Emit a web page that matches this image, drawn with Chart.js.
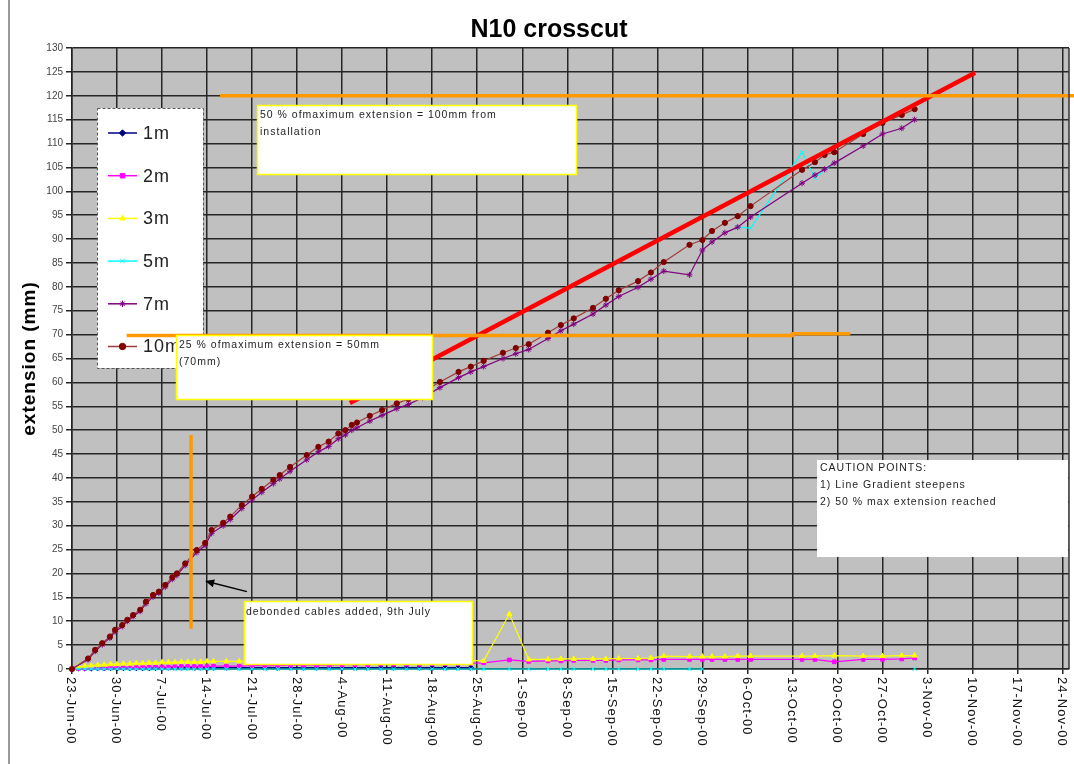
<!DOCTYPE html>
<html>
<head>
<meta charset="utf-8">
<script src="https://cdn.jsdelivr.net/npm/chart.js@4.4.1/dist/chart.umd.min.js"></script>
<style>
  html, body { margin: 0; padding: 0; background: #ffffff; }
  canvas { display: block; }
</style>
</head>
<body>
<canvas id="c" width="1074" height="764"></canvas>
<script>
// Day offsets are counted from the installation date, 23-Jun-00.
const tickLabels = ['23-Jun-00', '30-Jun-00', '7-Jul-00', '14-Jul-00', '21-Jul-00', '28-Jul-00',
  '4-Aug-00', '11-Aug-00', '18-Aug-00', '25-Aug-00', '1-Sep-00', '8-Sep-00', '15-Sep-00',
  '22-Sep-00', '29-Sep-00', '6-Oct-00', '13-Oct-00', '20-Oct-00', '27-Oct-00', '3-Nov-00',
  '10-Nov-00', '17-Nov-00', '24-Nov-00'];

// Reading days of the deep anchors (7m and 10m)
const deepDays = [
  0, 2.5, 3.6, 4.7, 5.9, 6.7, 7.8, 8.6, 9.5, 10.6,
  11.5, 12.6, 13.5, 14.5, 15.6, 16.3, 17.6, 19.4, 20.7, 21.7,
  23.5, 24.6, 26.4, 28.0, 29.5, 31.3, 32.3, 33.9, 36.5, 38.3,
  39.9, 41.4, 42.5, 43.5, 44.3, 46.3, 48.2, 50.5, 52.3, 54.5,
  57.2, 60.1, 62, 64, 67, 69, 71, 74, 76, 78,
  81, 83, 85, 88, 90, 92, 96, 98, 99.5, 101.5,
  103.5, 105.5, 113.5, 115.5, 117, 118.5, 123, 126, 129, 131];

const ext10m = [
  0, 2.2, 4.0, 5.4, 6.8, 8.2, 9.2, 10.3, 11.3, 12.4,
  14.1, 15.5, 16.2, 17.6, 19.2, 20.0, 22.1, 24.9, 26.4, 29.1,
  30.6, 31.9, 34.3, 36.1, 37.7, 39.6, 40.6, 42.3, 44.8, 46.5,
  47.6, 49.3, 50.0, 51.1, 51.6, 53.0, 54.2, 55.6, 56.5, 58.0,
  60.1, 62.2, 63.3, 64.5, 66.2, 67.2, 68.0, 70.4, 72.0, 73.4,
  75.6, 77.5, 79.3, 81.2, 83.0, 85.2, 88.8, 89.8, 91.7, 93.4,
  94.8, 96.9, 104.5, 106.1, 107.6, 108.2, 112.0, 114.3, 116.0, 117.2];

const ext7m = [
  0, 2.0, 3.7, 5.1, 6.5, 7.8, 8.9, 10.0, 11.0, 12.1,
  13.7, 15.1, 15.9, 17.2, 18.8, 19.6, 21.7, 24.4, 25.9, 28.4,
  30.0, 31.3, 33.6, 35.4, 37.0, 38.8, 39.8, 41.4, 43.8, 45.5,
  46.6, 48.2, 49.0, 50.0, 50.5, 51.9, 53.1, 54.5, 55.4, 56.8,
  58.9, 61.0, 62.2, 63.3, 65.0, 66.0, 66.9, 69.2, 70.8, 72.2,
  74.3, 76.2, 78.0, 79.9, 81.6, 83.3, 82.5, 87.7, 89.4, 91.3,
  92.5, 94.6, 101.7, 103.4, 104.6, 105.9, 109.5, 112.0, 113.2, 115.0];

// Reading days of the shallow anchors (1m, 2m, 3m, 5m)
const shallowDays = [
  0, 1, 2, 3, 4, 5, 6, 7, 8, 9,
  10, 11, 12, 13, 14, 15, 16, 17, 18, 19,
  20, 21, 22, 24, 26, 28, 30, 32, 34, 36,
  38, 40, 42, 44, 46, 48, 50, 52, 54, 56,
  58, 60, 62, 64, 68, 71, 74, 76, 78, 81,
  83, 85, 88, 90, 92, 96, 98, 99.5, 101.5, 103.5,
  105.5, 113.5, 115.5, 118.5, 123, 126, 129, 131];

const ext1m = [
  0, 0.1, 0.1, 0.1, 0.2, 0.2, 0.2, 0.2, 0.2, 0.2,
  0.2, 0.2, 0.2, 0.2, 0.3, 0.3, 0.3, 0.3, 0.3, 0.3,
  0.3, 0.3, 0.3, 0.3, 0.3, 0.3, 0.3, 0.3, 0.3, 0.3,
  0.3, 0.3, 0.3, 0.3, 0.3, 0.3, 0.3, 0.3, 0.3, 0.3,
  0.3, 0.3, 0.3, null, null, null, null, null, null, null,
  null, null, null, null, null, null, null, null, null, null,
  null, null, null, null, null, null, null, null];

const ext2m = [
  0, 0.1, 0.1, 0.2, 0.2, 0.2, 0.3, 0.3, 0.3, 0.3,
  0.3, 0.4, 0.4, 0.4, 0.4, 0.4, 0.5, 0.5, 0.5, 0.5,
  0.5, 0.5, 0.6, 0.6, 0.6, 0.7, 0.7, 0.7, 0.8, 0.8,
  0.8, 0.8, 0.9, 0.9, 0.9, 1.0, 1.0, 1.0, 1.0, 1.1,
  1.1, 1.1, 1.2, 1.3, 1.9, 1.6, 1.7, 1.7, 1.8, 1.8,
  1.8, 1.9, 1.9, 1.9, 2.0, 2.0, 2.0, 2.0, 2.0, 2.0,
  2.0, 2.0, 2.0, 1.5, 2.0, 2.0, 2.1, 2.3];

const ext3m = [
  0, 0.5, 0.6, 0.7, 0.8, 0.9, 1.0, 1.0, 1.1, 1.1,
  1.2, 1.2, 1.3, 1.3, 1.4, 1.4, 1.4, 1.5, 1.5, 1.5,
  1.5, 1.6, 1.6, 1.6, 1.6, 1.7, 1.7, 1.7, 1.7, 1.8,
  1.8, 1.8, 1.8, 1.8, 1.8, 1.8, 1.8, 1.8, 1.8, 1.8,
  1.8, 1.8, 1.8, 1.7, 11.5, 2.0, 2.0, 2.1, 2.1, 2.1,
  2.1, 2.2, 2.2, 2.3, 2.7, 2.6, 2.6, 2.6, 2.6, 2.7,
  2.7, 2.7, 2.7, 2.8, 2.7, 2.7, 2.8, 2.8];

const ext5m = [
  0, 0, 0, 0, 0, 0, 0, 0, 0, 0,
  0, 0, 0, 0, 0, 0, 0, 0, 0, 0,
  0, 0, 0, 0, 0, 0, 0, 0, 0, 0,
  0, 0, 0, 0, 0, 0, 0, 0, 0, 0,
  0, 0, 0, 0, 0, 0, 0, 0, 0, 0,
  0, 0, 0, 0, 0, 0, 0, null, null, 92.5,
  92.3, 108.2, 102.8, 105.9, null, null, null, 0];

// Reference lines: [day, extension (mm)]
const limit50Line = [[23, 120], [156, 120]];
const limit25Line = [[8.5, 69.8], [112, 69.8], [112, 70.2], [121, 70.2]];
const debondLine = [[18.5, 49], [18.5, 8.4]];
const gradientLine = [[43.2, 55.7], [140.4, 124.8]];

const FONT = '"Liberation Sans", Arial, Helvetica, sans-serif';
const toPoints = (days, vals) => days.map((d, i) => ({ x: d, y: vals[i] }));
const toXY = (pairs) => pairs.map(p => ({ x: p[0], y: p[1] }));

function series(label, days, vals, color, markColor, style, r) {
  return {
    label, data: toPoints(days, vals),
    borderColor: color, borderWidth: 1.2,
    pointStyle: style, pointRadius: r,
    pointBackgroundColor: markColor, pointBorderColor: markColor, pointBorderWidth: 1,
    spanGaps: false, tension: 0, clip: 4
  };
}
function refLine(data, color, width) {
  return { data: toXY(data), borderColor: color, borderWidth: width,
    pointRadius: 0, tension: 0, clip: { left: 0, top: 0, right: 8, bottom: 0 } };
}

// Index 0 is painted last, so the reference lines sit on top.
const datasets = [
  refLine(limit50Line, '#ff9900', 3.5),
  refLine(limit25Line, '#ff9900', 3.5),
  refLine(debondLine, '#ff9900', 3.5),
  refLine(gradientLine, '#ff0000', 4.5),
  series('10m', deepDays, ext10m, '#a03c3c', '#800000', 'circle', 2.6),
  series('7m', deepDays, ext7m, '#800080', '#800080', 'star', 3),
  series('5m', shallowDays, ext5m, '#00ffff', '#00ffff', 'crossRot', 2.6),
  series('3m', shallowDays, ext3m, '#ffff00', '#ffff00', 'triangle', 3),
  series('2m', shallowDays, ext2m, '#ff00ff', '#ff00ff', 'rect', 2.6),
  series('1m', shallowDays, ext1m, '#000080', '#000080', 'rectRot', 2.6)
];
const legendOrder = ['1m', '2m', '3m', '5m', '7m', '10m'];

const notes = [
  { box: [257, 105, 577, 175], border: '#ffff00', at: [260, 115],
    lines: ['50 % ofmaximum extension = 100mm from', 'installation'] },
  { box: [176, 335, 433, 400], border: '#ffff00', at: [179, 345],
    lines: ['25 % ofmaximum extension = 50mm', '(70mm)'] },
  { box: [817, 460, 1068, 557], border: null, at: [820, 468],
    lines: ['CAUTION POINTS:', '1) Line Gradient steepens', '2) 50 % max extension reached'] },
  { box: [244, 601, 473, 665], border: '#ffff00', at: [246, 612],
    lines: ['debonded cables added, 9th July'] }
];

const decor = {
  id: 'decor',
  beforeDraw(chart) {
    const { ctx, chartArea: a } = chart;
    ctx.save();
    ctx.fillStyle = '#ffffff';
    ctx.fillRect(0, 0, chart.width, chart.height);
    ctx.fillStyle = '#c0c0c0';
    ctx.fillRect(a.left, a.top, a.right - a.left, a.bottom - a.top);
    ctx.restore();
  },
  beforeDatasetsDraw(chart) {
    // legend panel inside the plot
    const ctx = chart.ctx;
    ctx.save();
    ctx.fillStyle = '#ffffff';
    ctx.fillRect(97, 108, 106, 260);
    ctx.setLineDash([3, 2]);
    ctx.strokeStyle = '#555';
    ctx.lineWidth = 1;
    ctx.strokeRect(97.5, 108.5, 106, 260);
    ctx.setLineDash([]);
    legendOrder.forEach((name, i) => {
      const ds = chart.data.datasets.find(d => d.label === name);
      const y = 133 + i * 42.7;
      ctx.strokeStyle = ds.borderColor;
      ctx.lineWidth = 1.5;
      ctx.beginPath(); ctx.moveTo(108, y); ctx.lineTo(137, y); ctx.stroke();
      ctx.fillStyle = ds.pointBackgroundColor;
      ctx.strokeStyle = ds.pointBorderColor;
      ctx.lineWidth = 1;
      Chart.helpers.drawPoint(ctx, { pointStyle: ds.pointStyle, radius: 3.2, rotation: 0, borderWidth: 1 }, 122.5, y);
      ctx.fillStyle = '#222';
      ctx.font = '18px ' + FONT;
      ctx.letterSpacing = '1px';
      ctx.textAlign = 'left';
      ctx.textBaseline = 'middle';
      ctx.fillText(name, 143, y + 1);
      ctx.letterSpacing = '0px';
    });
    ctx.restore();
  },
  afterDatasetsDraw(chart) {
    const { ctx, chartArea: a, scales } = chart;
    const xs = scales.x, ys = scales.y;
    ctx.save();

    // plot frame
    ctx.strokeStyle = '#333';
    ctx.lineWidth = 1.5;
    ctx.beginPath();
    ctx.moveTo(a.right, a.top); ctx.lineTo(a.right, a.bottom);
    ctx.stroke();

    // arrow towards the point where the debonded cables were added
    const tx = xs.getPixelForValue(27.2), ty = ys.getPixelForValue(16.2);
    const hx = xs.getPixelForValue(20.7), hy = ys.getPixelForValue(18.4);
    const ang = Math.atan2(hy - ty, hx - tx);
    ctx.strokeStyle = '#000'; ctx.fillStyle = '#000'; ctx.lineWidth = 1.5;
    ctx.beginPath(); ctx.moveTo(tx, ty); ctx.lineTo(hx - 5 * Math.cos(ang), hy - 5 * Math.sin(ang)); ctx.stroke();
    ctx.beginPath();
    ctx.moveTo(hx, hy);
    ctx.lineTo(hx - 9 * Math.cos(ang) + 4 * Math.sin(ang), hy - 9 * Math.sin(ang) - 4 * Math.cos(ang));
    ctx.lineTo(hx - 9 * Math.cos(ang) - 4 * Math.sin(ang), hy - 9 * Math.sin(ang) + 4 * Math.cos(ang));
    ctx.closePath(); ctx.fill();

    // text boxes
    notes.forEach(n => {
      const [l, t, r, b] = n.box;
      ctx.fillStyle = '#ffffff';
      ctx.fillRect(l, t, r - l, b - t);
      if (n.border) {
        ctx.strokeStyle = n.border; ctx.lineWidth = 1.5;
        ctx.strokeRect(l + 0.5, t + 0.5, r - l - 1, b - t - 1);
      }
      ctx.fillStyle = '#1e1e1e';
      ctx.font = '10.5px ' + FONT;
      ctx.letterSpacing = '1px';
      ctx.textAlign = 'left';
      ctx.textBaseline = 'middle';
      n.lines.forEach((s, i) => ctx.fillText(s, n.at[0], n.at[1] + i * 17));
      ctx.letterSpacing = '0px';
    });

    // date labels, turned to read downwards
    ctx.fillStyle = '#111';
    ctx.font = '13px ' + FONT;
    ctx.letterSpacing = '1px';
    ctx.textAlign = 'left';
    ctx.textBaseline = 'middle';
    tickLabels.forEach((s, i) => {
      const x = xs.getPixelForValue(i * 7);
      ctx.save();
      ctx.translate(x - 1, a.bottom + 8);
      ctx.rotate(Math.PI / 2);
      ctx.fillText(s, 0, 0);
      ctx.restore();
    });

    // axis title
    ctx.font = 'bold 19px ' + FONT;
    ctx.fillStyle = '#000';
    ctx.textAlign = 'center';
    ctx.save();
    ctx.translate(30, (a.top + a.bottom) / 2);
    ctx.rotate(-Math.PI / 2);
    ctx.fillText('extension (mm)', 0, 0);
    ctx.restore();
    ctx.letterSpacing = '0px';

    // chart title
    ctx.font = 'bold 25px ' + FONT;
    ctx.fillStyle = '#000';
    ctx.textAlign = 'center';
    ctx.fillText('N10 crosscut', 549, 30);

    // outer frame edge
    ctx.strokeStyle = '#9a9a9a';
    ctx.lineWidth = 2;
    ctx.beginPath(); ctx.moveTo(9, 0); ctx.lineTo(9, chart.height); ctx.stroke();

    ctx.restore();
  }
};

new Chart(document.getElementById('c'), {
  type: 'line',
  data: { datasets },
  options: {
    responsive: false,
    animation: false,
    devicePixelRatio: 1,
    layout: { padding: { top: 48, right: 5, left: 0, bottom: 0 } },
    plugins: { legend: { display: false }, tooltip: { enabled: false }, title: { display: false } },
    elements: { line: { fill: false } },
    scales: {
      x: {
        type: 'linear', min: 0, max: 155,
        afterBuildTicks: (s) => { s.ticks = tickLabels.map((_, i) => ({ value: i * 7 })); },
        afterFit: (s) => { s.height = 95; },
        ticks: { display: false },
        grid: { color: '#262626', lineWidth: 1.5, tickLength: 5, drawTicks: true },
        border: { display: true, color: '#222', width: 1.5 }
      },
      y: {
        type: 'linear', min: 0, max: 130,
        afterFit: (s) => { s.width = 72; },
        ticks: { stepSize: 5, padding: 3, color: '#444', font: { family: FONT, size: 10 } },
        grid: { color: '#262626', lineWidth: 1.5, tickLength: 6, drawTicks: true },
        border: { display: true, color: '#222', width: 1.5 }
      }
    }
  },
  plugins: [decor]
});
</script>
</body>
</html>
